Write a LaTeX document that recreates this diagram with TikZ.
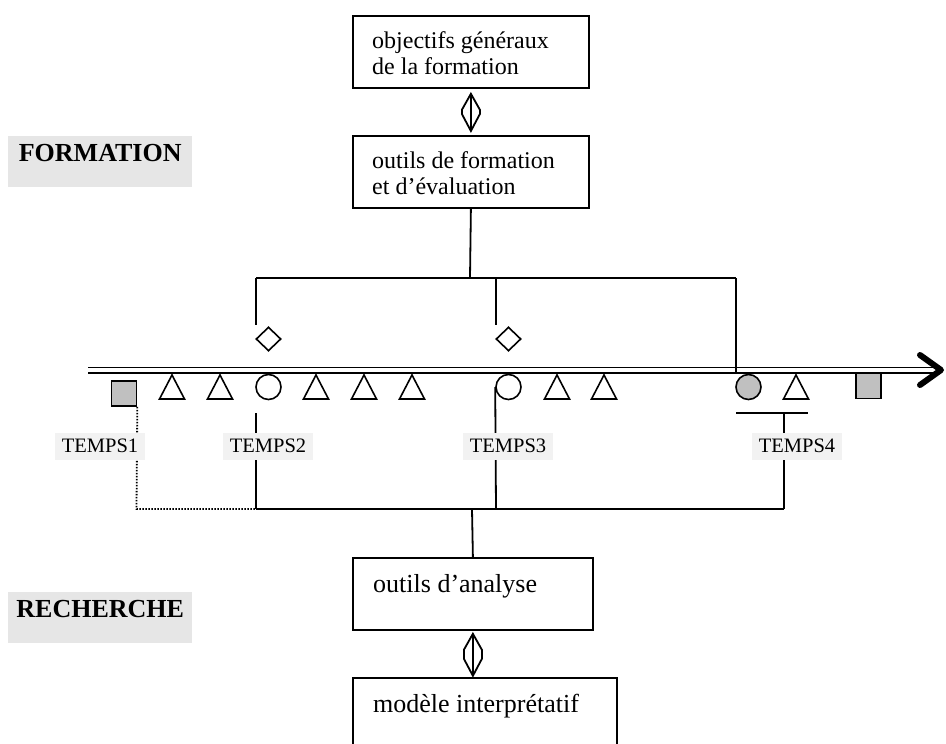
\documentclass[tikz,border=0pt]{standalone}
\usepackage{fontspec}
\setmainfont{Liberation Serif}
\usetikzlibrary{shapes.geometric,calc}
\definecolor{sectgrey}{HTML}{E6E6E6}
\definecolor{tempsgrey}{HTML}{F2F2F2}
\definecolor{markgrey}{HTML}{C0C0C0}
\newcommand\UpDown[2]{%
  \draw[ln] (#1) -- ($(#1)+(-9,16)$) -- ($(#2)+(-9,-17)$) -- (#2) -- ($(#2)+(9,-17)$) -- ($(#1)+(9,16)$) -- cycle;
  \draw[ln] (#1) -- (#2);}
\begin{document}
\begin{tikzpicture}[x=1pt,y=-1pt,
  ln/.style={line width=1.8pt},
  box/.style={draw, line width=1.8pt, anchor=north west, inner sep=0pt},
  txtA/.style={anchor=base west, inner sep=0pt, font=\fontsize{24}{26}\selectfont},
  txtB/.style={anchor=base west, inner sep=0pt, font=\fontsize{26}{28}\selectfont},
  sect/.style={fill=sectgrey, anchor=base west, inner xsep=0pt, inner ysep=0pt,
    minimum width=184pt, text height=25pt, text depth=26pt,
    font=\bfseries\fontsize{26}{28}\selectfont},
  temps/.style={fill=tempsgrey, inner sep=0pt, minimum width=90pt, minimum height=27pt,
    font=\fontsize{20.5}{22}\selectfont},
  mk/.style={draw, line width=1.6pt, inner sep=0pt},
  rond/.style={mk, circle, minimum size=25pt},
  losange/.style={mk, diamond, minimum width=25pt, minimum height=24pt},
  carre/.style={mk, rectangle, minimum size=25pt, fill=markgrey},
  tri/.pic={\draw[line width=1.6pt] (-12.5,12) -- (0,-12) -- (12.5,12) -- cycle;}
]
\useasboundingbox (0,0) rectangle (946,744);

% section labels
\node[sect] (formation) at (8,161) {FORMATION};
\node[sect] (recherche) at (8,617) {RECHERCHE};

% boxes
\node[box, minimum width=236pt, minimum height=72pt] (b1) at (352,15) {};
\node[txtA] (b1l1) at (372,48) {objectifs généraux};
\node[txtA] (b1l2) at (372,74) {de la formation};
\node[box, minimum width=236pt, minimum height=72pt] (b2) at (352,135) {};
\node[txtA] (b2l1) at (372,168) {outils de formation};
\node[txtA] (b2l2) at (372,194) {et d’évaluation};
\node[box, minimum width=240pt, minimum height=72pt] (b3) at (352,557) {};
\node[txtB] (b3l1) at (373,592) {outils d’analyse};
\node[box, minimum width=264pt, minimum height=90pt] (b4) at (352,677) {};
\node[txtB] (b4l1) at (373,712) {modèle interprétatif};

% up-down arrows
\coordinate (a1t) at ($(b1.south)+(0,5)$);
\coordinate (a1b) at ($(b2.north)+(0,-4)$);
\UpDown{a1t}{a1b}
\coordinate (a2t) at ($(b3.south)+(0,3)$);
\coordinate (a2b) at ($(b3.south)+(0,45)$);
\UpDown{a2t}{a2b}

% timeline
\coordinate (tlS) at (88,370.25);
\coordinate (tlE) at (938,370.25);
\draw[line width=1.9pt, double, double distance=3.6pt] (tlS) -- (tlE);
\coordinate (chA) at (920,355);
\coordinate (chT) at (941,370);
\coordinate (chB) at (920,385);
\draw[line width=6pt, line cap=round, line join=round] (chA) -- (chT) -- (chB);

% markers
\node[carre] (s1) at (124,393.5) {};
\node[carre] (s2) at (868.5,386) {};
\node[rond] (c1) at (268.5,387) {};
\node[rond] (c2) at (508.5,387) {};
\node[rond, fill=markgrey] (c3) at (748.5,387) {};
\node[losange] (d1) at (268.5,339) {};
\node[losange] (d2) at (508.5,339) {};
\foreach \x in {172,220,316,364,412,557,604,796} \pic at (\x,387) {tri};

% upper connectors
\coordinate (j0) at (470,278);
\coordinate (jL) at (256,278);
\coordinate (jM) at (496,278);
\coordinate (jR) at (736,278);
\coordinate (eL) at (256,325);
\coordinate (eM) at (496,325);
\coordinate (eR) at (736,374);
\draw[ln] (b2.south) -- (j0);
\draw[ln] (jL) -- (jR);
\draw[ln] (jL) -- (eL);
\draw[ln] (jM) -- (eM);
\draw[ln] (jR) -- (eR);

% lower connectors
\coordinate (kL) at (256,509);
\coordinate (k3) at (496,509);
\coordinate (kC) at (472,509);
\coordinate (kR) at (784,509);
\coordinate (t2top) at (256,413);
\coordinate (brL) at (736,413);
\coordinate (brR) at (808,413);
\coordinate (t4top) at (784,413);
\coordinate (dotc) at (s1.south east);
\coordinate (dotb) at (136.5,509);
\draw[ln] (kL) -- (kR);
\draw[ln] (t2top) -- (kL);
\draw[ln] (c2.west) -- (k3);
\draw[ln] (brL) -- (brR);
\draw[ln] (t4top) -- (kR);
\draw[ln] (kC) -- (b3.north);
\draw[line width=1.8pt, dash pattern=on 1.6pt off 1.4pt] (dotc) -- (dotb) -- (kL);

% TEMPS labels
\node[temps] (T1) at (100,446) {TEMPS1};
\node[temps] (T2) at (268,446) {TEMPS2};
\node[temps] (T3) at (508,446) {TEMPS3};
\node[temps] (T4) at (797,446) {TEMPS4};
\end{tikzpicture}
\end{document}
